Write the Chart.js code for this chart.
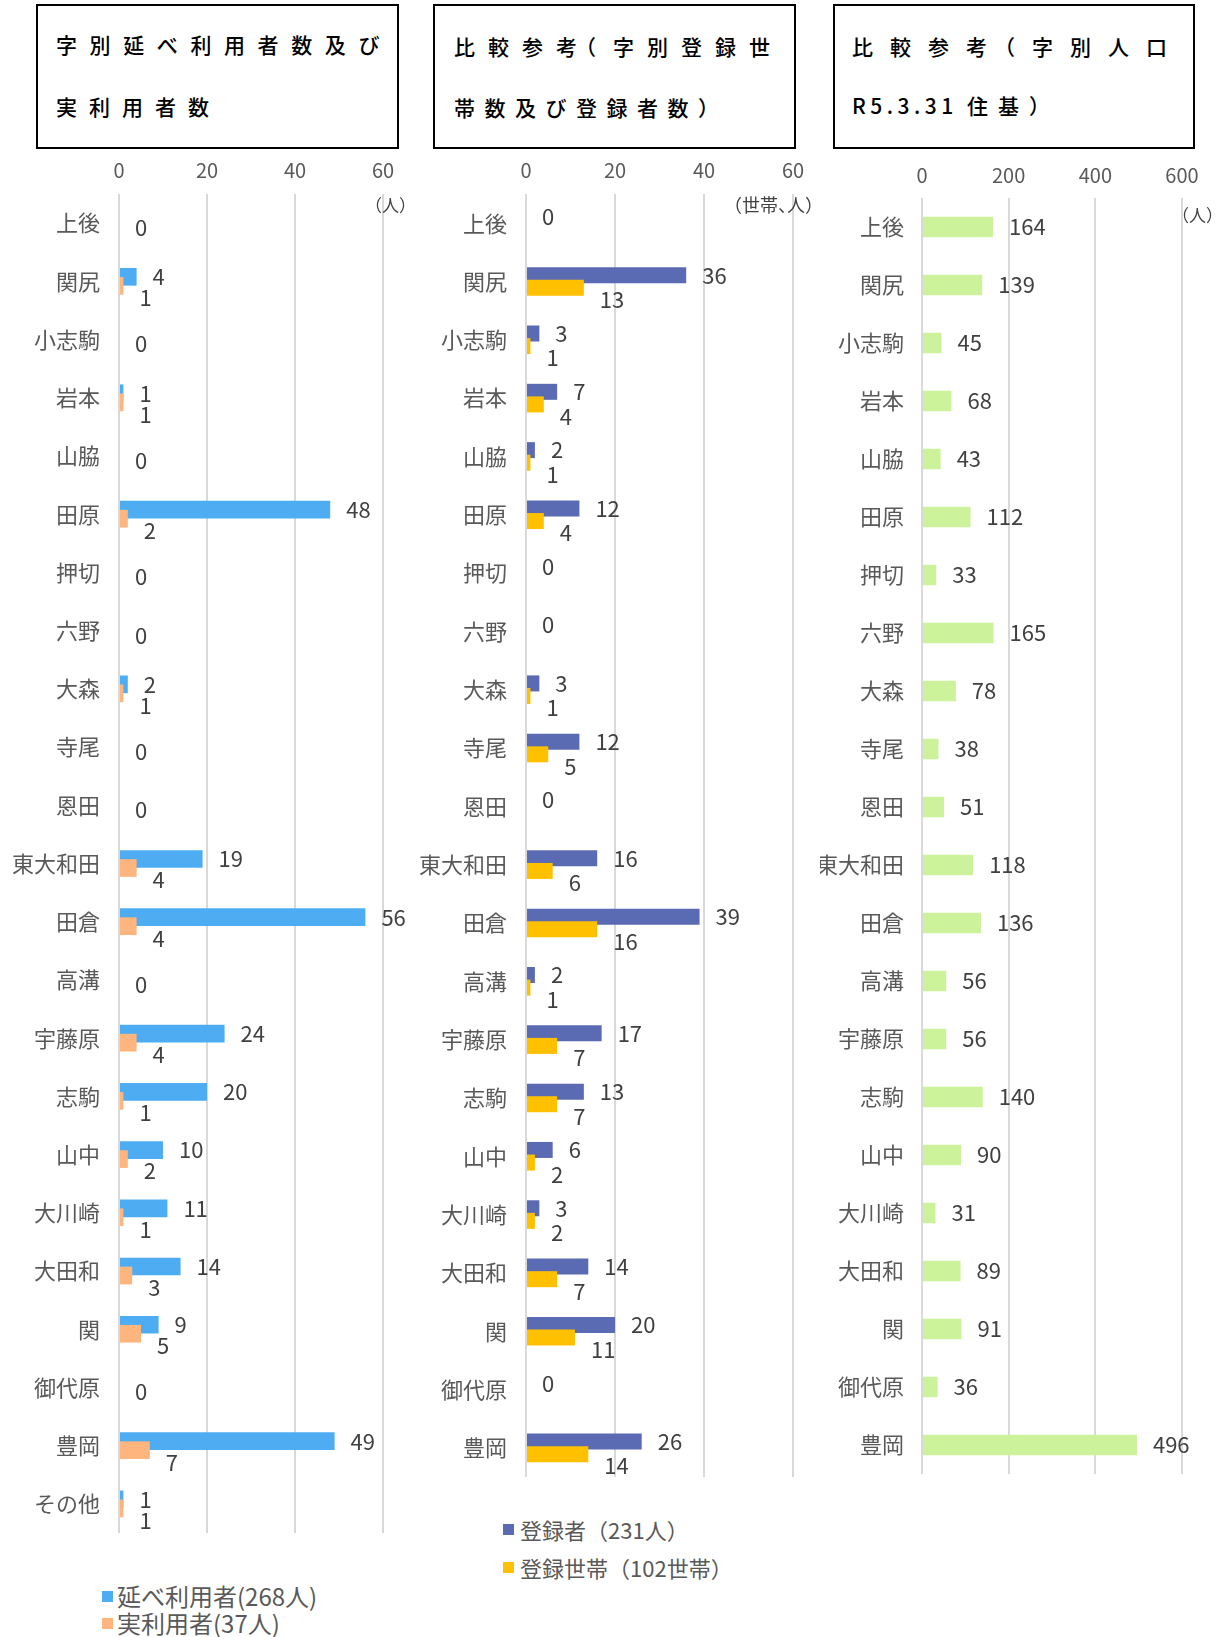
<!DOCTYPE html>
<html lang="ja">
<head>
<meta charset="utf-8">
<script src="https://cdn.jsdelivr.net/npm/chart.js@4.4.1/dist/chart.umd.min.js"></script>
<style>
  body { margin: 0; background: #fff; font-family: "Noto Sans CJK JP", sans-serif; }
  #page { position: relative; width: 1221px; height: 1637px; overflow: hidden; }
  .box { position: absolute; border: 2px solid #000; box-sizing: border-box; top: 4px; height: 145px; }
  .t { position: absolute; white-space: nowrap; font-size: 21px; line-height: 21px; color: #000; font-weight: 500; }
  .unit { position: absolute; white-space: nowrap; font-size: 17px; line-height: 17px; color: #404040; }
  .lg { position: absolute; white-space: nowrap; font-size: 22px; line-height: 22px; color: #595959; }
  .sq { position: absolute; width: 11px; height: 11px; }
  .wrap { position: absolute; top: 150px; }
</style>
</head>
<body>
<div id="page">
  <div class="box" style="left:36px;width:363px"></div>
  <div class="t" style="left:56px;top:34px;letter-spacing:12.6px">字別延べ利用者数及び</div>
  <div class="t" style="left:56px;top:96px;letter-spacing:12px">実利用者数</div>

  <div class="box" style="left:433px;width:363px"></div>
  <div class="t" style="left:454px;top:36px;letter-spacing:13px">比較参<span style="margin-right:-15px">考</span><span style="margin-right:4px">（</span>字別登録世</div>
  <div class="t" style="left:454px;top:97px;letter-spacing:9.5px">帯数及び登録者数）</div>

  <div class="box" style="left:833px;width:362px"></div>
  <div class="t" style="left:852px;top:36px;letter-spacing:17px">比較参<span style="margin-right:-10px">考</span>（字別人口</div>
  <div class="t" style="left:852px;top:95px"><span style="letter-spacing:4.5px">R5.3.31 </span><span style="letter-spacing:10px">住基）</span></div>

  <div class="wrap" style="left:0;width:420px;height:1383px"><canvas id="c1"></canvas></div>
  <div class="wrap" style="left:420px;width:400px;height:1327px"><canvas id="c2"></canvas></div>
  <div class="wrap" style="left:820px;width:401px;height:1324px"><canvas id="c3"></canvas></div>

  <div class="unit" style="left:365px;top:196px">（人）</div>
  <div class="unit" style="left:724px;top:195px;font-size:18px;line-height:18px">（世帯<span style="margin-right:-9px">、</span>人）</div>
  <div class="unit" style="left:1172px;top:206px">（人）</div>

  <div class="sq" style="left:102px;top:1591px;background:#4EADF2"></div>
  <div class="lg" style="left:117px;top:1584px;font-size:24px;line-height:24px">延べ利用者(268人)</div>
  <div class="sq" style="left:102px;top:1618px;background:#FFB57E"></div>
  <div class="lg" style="left:117px;top:1611px;font-size:24px;line-height:24px">実利用者(37人)</div>

  <div class="sq" style="left:503px;top:1524px;background:#5B6BB3"></div>
  <div class="lg" style="left:520px;top:1518px">登録者（231人）</div>
  <div class="sq" style="left:503px;top:1562px;background:#FFC000"></div>
  <div class="lg" style="left:520px;top:1556px">登録世帯（102世帯）</div>
</div>
<script>
const FONT = '"Noto Sans CJK JP", sans-serif';

const areas = ['上後', '関尻', '小志駒', '岩本', '山脇', '田原', '押切', '六野', '大森', '寺尾', '恩田',
  '東大和田', '田倉', '高溝', '宇藤原', '志駒', '山中', '大川崎', '大田和', '関', '御代原', '豊岡', 'その他'];
const areasNoOther = areas.slice(0, 22);

// 字別延べ利用者数・実利用者数
const totalUsers = [0, 4, 0, 1, 0, 48, 0, 0, 2, 0, 0, 19, 56, 0, 24, 20, 10, 11, 14, 9, 0, 49, 1];
const realUsers = [0, 1, 0, 1, 0, 2, 0, 0, 1, 0, 0, 4, 4, 0, 4, 1, 2, 1, 3, 5, 0, 7, 1];

// 字別登録者数・登録世帯数
const members = [0, 36, 3, 7, 2, 12, 0, 0, 3, 12, 0, 16, 39, 2, 17, 13, 6, 3, 14, 20, 0, 26];
const households = [0, 13, 1, 4, 1, 4, 0, 0, 1, 5, 0, 6, 16, 1, 7, 7, 2, 2, 7, 11, 0, 14];

// 字別人口 R5.3.31 住基
const population = [164, 139, 45, 68, 43, 112, 33, 165, 78, 38, 51, 118, 136, 56, 56, 140, 90, 31, 89, 91, 36, 496];

// draws the value labels, and puts the second series over the first one
const valueLabels = {
  id: 'valueLabels',
  beforeDatasetDraw(chart, args, opts) {
    if (opts.secondOnTop && args.index === 1) return false;
  },
  afterDatasetDraw(chart, args, opts) {
    if (opts.secondOnTop && args.index === 0) chart.getDatasetMeta(1).controller.draw();
  },
  afterDatasetsDraw(chart, args, opts) {
    const ctx = chart.ctx;
    ctx.save();
    ctx.font = '22px ' + FONT;
    ctx.fillStyle = '#404040';
    ctx.textAlign = 'left';
    ctx.textBaseline = 'middle';
    chart.data.datasets.forEach((ds, di) => {
      chart.getDatasetMeta(di).data.forEach((bar, i) => {
        const v = ds.data[i];
        if (v === 0 && di !== opts.zeroFrom) return;
        const dy = v === 0 ? 0 : (opts.shift[di] || 0);
        ctx.fillText(String(v), bar.x + 16, bar.y + dy);
      });
    });
    ctx.restore();
  }
};

function makeChart(id, labels, datasets, cfg) {
  return new Chart(document.getElementById(id), {
    type: 'bar',
    data: { labels, datasets },
    plugins: [valueLabels],
    options: {
      indexAxis: 'y',
      responsive: true,
      maintainAspectRatio: false,
      animation: false,
      categoryPercentage: cfg.catPct,
      barPercentage: cfg.barPct,
      layout: { padding: { left: 0, top: 0, bottom: 0, right: cfg.padRight } },
      scales: {
        x: {
          position: 'top',
          min: 0,
          max: cfg.max,
          ticks: { stepSize: cfg.step, color: '#595959', font: { family: FONT, size: 20 }, padding: cfg.tickPad },
          grid: { color: '#d9d9d9', lineWidth: 2, drawTicks: false },
          border: { display: false },
          afterFit: s => { s.height = cfg.axisH; }
        },
        y: {
          ticks: { color: '#595959', font: { family: FONT, size: 22 }, padding: cfg.labelPad, autoSkip: false },
          grid: { display: false, drawTicks: false },
          border: { display: false },
          afterFit: s => { s.width = cfg.yWidth; s.paddingTop = 0; s.paddingBottom = 0; }
        }
      },
      plugins: {
        legend: { display: false },
        tooltip: { enabled: false },
        valueLabels: { secondOnTop: datasets.length > 1, zeroFrom: cfg.zeroFrom, shift: [0, 12] }
      }
    }
  });
}

makeChart('c1', areas, [
  { label: '延べ利用者(268人)', data: totalUsers, backgroundColor: '#4EADF2' },
  { label: '実利用者(37人)', data: realUsers, backgroundColor: '#FFB57E' }
], { max: 60, step: 20, catPct: 0.31, barPct: 1.96, padRight: 37, axisH: 44, tickPad: 12, yWidth: 119, labelPad: 19, zeroFrom: 1 });

makeChart('c2', areasNoOther, [
  { label: '登録者（231人）', data: members, backgroundColor: '#5B6BB3' },
  { label: '登録世帯（102世帯）', data: households, backgroundColor: '#FFC000' }
], { max: 60, step: 20, catPct: 0.432, barPct: 1.27, padRight: 27, axisH: 44, tickPad: 12, yWidth: 106, labelPad: 19, zeroFrom: 0 });

makeChart('c3', areasNoOther, [
  { label: '人口', data: population, backgroundColor: '#CCF29B' }
], { max: 600, step: 200, catPct: 0.353, barPct: 1, padRight: 39, axisH: 48, tickPad: 11, yWidth: 102, labelPad: 18, zeroFrom: 0 });
</script>
</body>
</html>
